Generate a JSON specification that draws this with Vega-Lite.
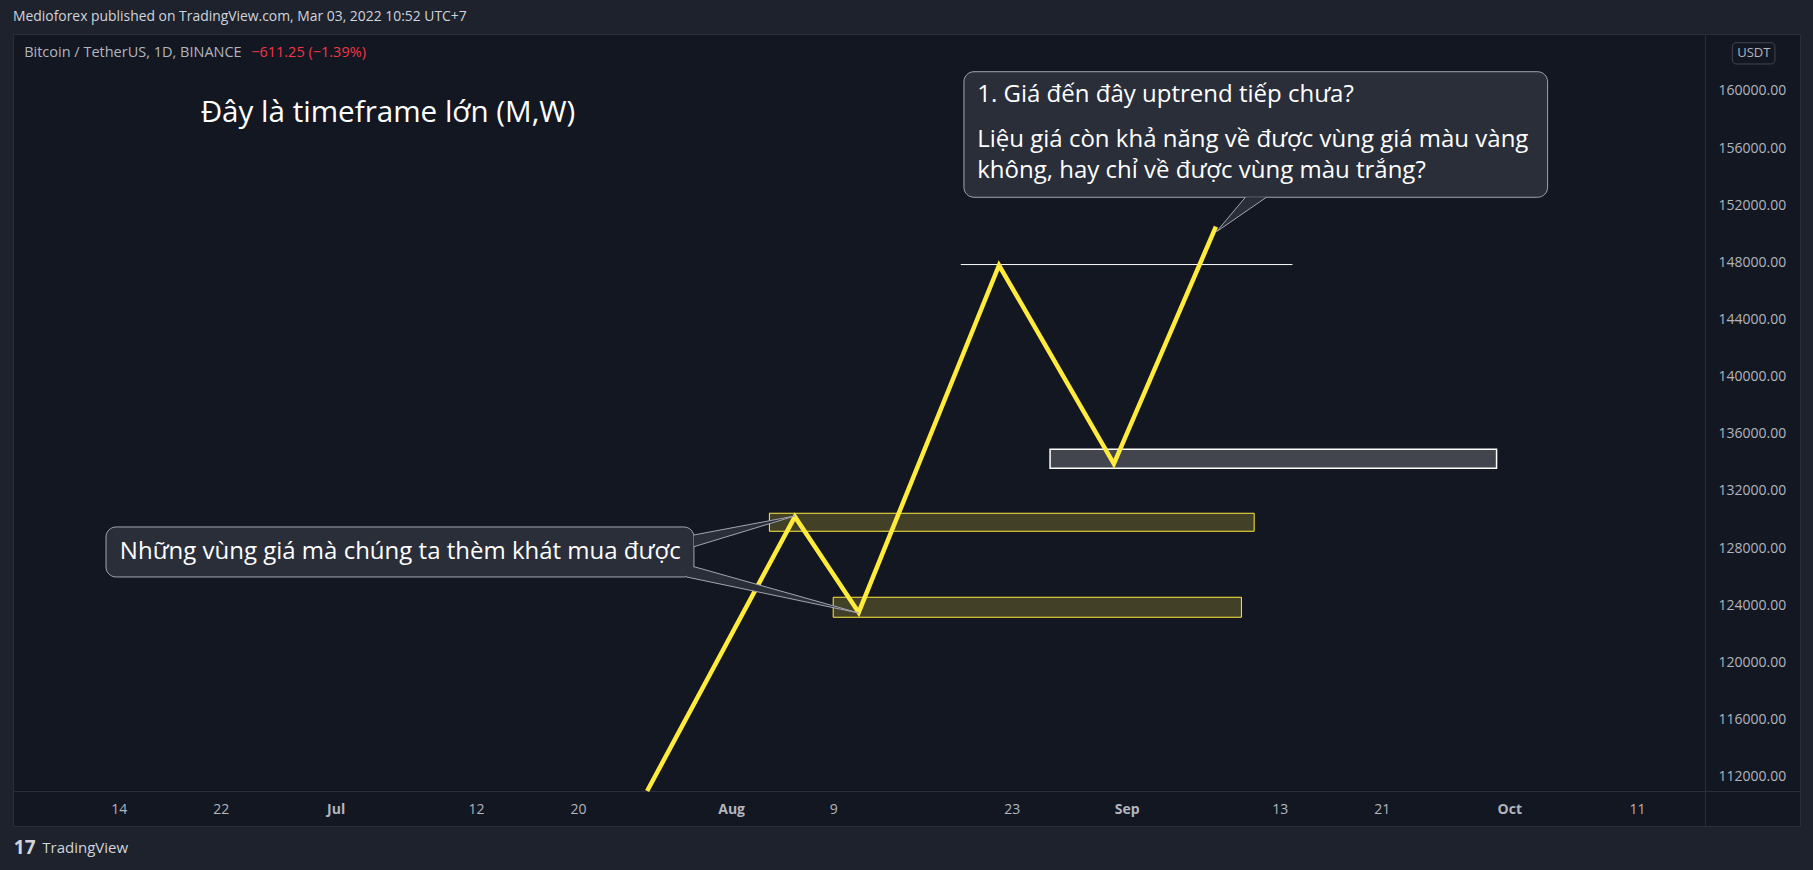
{
  "$schema": "https://vega.github.io/schema/vega-lite/v6.json",
  "width": 1787,
  "height": 792,
  "autosize": {"type": "none"},
  "padding": {"left": 13, "top": 34, "right": 13, "bottom": 44},
  "background": "#1e222d",
  "title": {"text": "Medioforex published on TradingView.com, Mar 03, 2022 10:52 UTC+7", "anchor": "start", "frame": "group", "offset": 10, "fontSize": 13.9, "fontWeight": "normal", "color": "#d1d4dc", "font": "Open Sans"},
  "config": {"view": {"fill": "#131722", "stroke": "#2a2e39", "strokeWidth": 1}, "font": "Open Sans"},
  "encoding": {
    "x": {"field": "x", "type": "temporal",
      "scale": {"type": "utc", "domain": [{"year": 2022, "month": 6, "date": 5, "hours": 17, "utc": true}, {"year": 2022, "month": 10, "date": 23, "hours": 18, "minutes": 50, "utc": true}]},
      "axis": {"orient": "bottom", "offset": -35, "title": null, "grid": false, "ticks": false, "tickSize": 0,
        "values": [
          {"year": 2022, "month": 6, "date": 14, "utc": true},
          {"year": 2022, "month": 6, "date": 22, "utc": true},
          {"year": 2022, "month": 7, "date": 1, "utc": true},
          {"year": 2022, "month": 7, "date": 12, "utc": true},
          {"year": 2022, "month": 7, "date": 20, "utc": true},
          {"year": 2022, "month": 8, "date": 1, "utc": true},
          {"year": 2022, "month": 8, "date": 9, "utc": true},
          {"year": 2022, "month": 8, "date": 23, "utc": true},
          {"year": 2022, "month": 9, "date": 1, "utc": true},
          {"year": 2022, "month": 9, "date": 13, "utc": true},
          {"year": 2022, "month": 9, "date": 21, "utc": true},
          {"year": 2022, "month": 10, "date": 1, "utc": true},
          {"year": 2022, "month": 10, "date": 11, "utc": true}
        ],
        "labelExpr": "utcdate(datum.value) == 1 ? utcFormat(datum.value, '%b') : utcFormat(datum.value, '%-d')",
        "labelFontWeight": {"condition": {"test": "utcdate(datum.value) == 1", "value": "bold"}, "value": "normal"},
        "labelPadding": 18, "labelBaseline": "middle", "labelColor": "#b2b5be", "labelFontSize": 14, "labelFont": "Open Sans",
        "labelOverlap": false, "labelFlush": false, "domainColor": "#2a2e39", "domainWidth": 1}
    },
    "y": {"field": "y", "type": "quantitative",
      "scale": {"domain": [108547, 163990], "nice": false, "zero": false},
      "axis": {"orient": "right", "offset": -95, "title": null, "grid": false, "ticks": false, "tickSize": 0,
        "values": [112000, 116000, 120000, 124000, 128000, 132000, 136000, 140000, 144000, 148000, 152000, 156000, 160000],
        "format": ".2f", "labelPadding": 13, "labelBaseline": "middle", "labelColor": "#b2b5be", "labelFontSize": 14, "labelFont": "Open Sans",
        "labelOverlap": false, "labelFlush": false, "domainColor": "#2a2e39", "domainWidth": 1}
    }
  },
  "layer": [
    {
      "data": {"values": [
        {"x": "2022-08-04", "x2": "2022-09-11", "y": 130440, "y2": 129180},
        {"x": "2022-08-09", "x2": "2022-09-10", "y": 124560, "y2": 123160}
      ]},
      "mark": {"type": "rect", "fill": "#ffeb3b", "fillOpacity": 0.2, "stroke": "#ffeb3b", "strokeWidth": 1},
      "encoding": {"x2": {"field": "x2"}, "y2": {"field": "y2"}}
    },
    {
      "data": {"values": [
        {"x": "2022-08-26", "x2": "2022-09-30", "y": 134920, "y2": 133590}
      ]},
      "mark": {"type": "rect", "fill": "#ffffff", "fillOpacity": 0.2, "stroke": "#ffffff", "strokeWidth": 1.5},
      "encoding": {"x2": {"field": "x2"}, "y2": {"field": "y2"}}
    },
    {
      "data": {"values": [
        {"x": "2022-08-19", "x2": "2022-09-14", "y": 147850}
      ]},
      "mark": {"type": "rule", "color": "#ffffff", "strokeWidth": 1},
      "encoding": {"x2": {"field": "x2"}}
    },
    {
      "data": {"values": [
        {"x": "2022-07-25T10:00:00Z", "y": 111000},
        {"x": "2022-08-06", "y": 130200},
        {"x": "2022-08-11", "y": 123500},
        {"x": "2022-08-22", "y": 147800},
        {"x": "2022-08-31", "y": 133900},
        {"x": "2022-09-08", "y": 150500}
      ]},
      "mark": {"type": "line", "color": "#ffeb3b", "strokeWidth": 4.5, "strokeJoin": "miter", "strokeCap": "butt"}
    },
    {
      "data": {"values": [
        {"x": "2022-08-19T06:00:00Z", "x2": "2022-10-04T00:00:00Z", "y": 161350, "y2": 152560},
        {"x": "2022-06-13T00:00:00Z", "x2": "2022-07-29T02:00:00Z", "y": 129480, "y2": 125980}
      ]},
      "mark": {"type": "rect", "fill": "#2a2e39", "stroke": "#a3a6af", "strokeWidth": 1, "cornerRadius": 10},
      "encoding": {"x2": {"field": "x2"}, "y2": {"field": "y2"}}
    },
    {
      "data": {"values": [
        {"w": "a", "i": 0, "x": "2022-09-10T07:30:00Z", "y": 152560},
        {"w": "a", "i": 1, "x": "2022-09-08T01:00:00Z", "y": 150150},
        {"w": "a", "i": 2, "x": "2022-09-11T23:00:00Z", "y": 152560},
        {"w": "b", "i": 0, "x": "2022-07-29T02:00:00Z", "y": 128920},
        {"w": "b", "i": 1, "x": "2022-08-06T00:00:00Z", "y": 130250},
        {"w": "b", "i": 2, "x": "2022-07-29T02:00:00Z", "y": 128100},
        {"w": "c", "i": 0, "x": "2022-07-29T02:00:00Z", "y": 126700},
        {"w": "c", "i": 1, "x": "2022-08-11T00:00:00Z", "y": 123460},
        {"w": "c", "i": 2, "x": "2022-07-28T12:00:00Z", "y": 125980}
      ]},
      "mark": {"type": "line", "fill": "#2a2e39", "stroke": "#a3a6af", "strokeWidth": 1, "strokeJoin": "miter"},
      "encoding": {"detail": {"field": "w"}, "order": {"field": "i", "type": "quantitative"}}
    },
    {
      "data": {"values": [
        {"x": "2022-06-20T10:00:00Z", "y": 158440, "t": "Đây là timeframe lớn (M,W)"}
      ]},
      "mark": {"type": "text", "align": "left", "baseline": "middle", "fontSize": 29.6, "color": "#ffffff", "font": "Open Sans"},
      "encoding": {"text": {"field": "t"}}
    },
    {
      "data": {"values": [
        {"x": "2022-08-20T07:00:00Z", "y": 159720, "t": "1. Giá đến đây uptrend tiếp chưa?"},
        {"x": "2022-08-20T07:00:00Z", "y": 156570, "t": "Liệu giá còn khả năng về được vùng giá màu vàng"},
        {"x": "2022-08-20T07:00:00Z", "y": 154400, "t": "không, hay chỉ về được vùng màu trắng?"},
        {"x": "2022-06-14T02:00:00Z", "y": 127750, "t": "Những vùng giá mà chúng ta thèm khát mua được"}
      ]},
      "mark": {"type": "text", "align": "left", "baseline": "middle", "fontSize": 24, "color": "#ffffff", "font": "Open Sans"},
      "encoding": {"text": {"field": "t"}}
    },
    {
      "data": {"values": [
        {"x": "2022-06-06T14:00:00Z", "y": 162640, "t": "Bitcoin / TetherUS, 1D, BINANCE"}
      ]},
      "mark": {"type": "text", "align": "left", "baseline": "middle", "fontSize": 14.5, "color": "#b2b5be", "font": "Open Sans"},
      "encoding": {"text": {"field": "t"}}
    },
    {
      "data": {"values": [
        {"x": "2022-06-24T09:00:00Z", "y": 162640, "t": "−611.25 (−1.39%)"}
      ]},
      "mark": {"type": "text", "align": "left", "baseline": "middle", "fontSize": 14.5, "color": "#f23645", "font": "Open Sans"},
      "encoding": {"text": {"field": "t"}}
    },
    {
      "data": {"values": [
        {"x": "2022-10-18T11:30:00Z", "x2": "2022-10-21T19:40:00Z", "y": 163380, "y2": 161890}
      ]},
      "mark": {"type": "rect", "fill": "#131722", "stroke": "#434651", "strokeWidth": 1, "cornerRadius": 4},
      "encoding": {"x2": {"field": "x2"}, "y2": {"field": "y2"}}
    },
    {
      "data": {"values": [
        {"x": "2022-10-20T04:00:00Z", "y": 162635, "t": "USDT"}
      ]},
      "mark": {"type": "text", "align": "center", "baseline": "middle", "fontSize": 13, "color": "#b2b5be", "font": "Open Sans"},
      "encoding": {"text": {"field": "t"}}
    },
    {
      "data": {"values": [
        {"x": "2022-06-06T15:00:00Z", "y": 107000, "t": "17"}
      ]},
      "mark": {"type": "text", "align": "center", "baseline": "middle", "fontSize": 19, "fontWeight": "bold", "color": "#d1d4dc", "font": "Open Sans", "clip": false},
      "encoding": {"text": {"field": "t"}}
    },
    {
      "data": {"values": [
        {"x": "2022-06-08T00:00:00Z", "y": 107000, "t": "TradingView"}
      ]},
      "mark": {"type": "text", "align": "left", "baseline": "middle", "fontSize": 15, "color": "#d1d4dc", "font": "Open Sans", "clip": false},
      "encoding": {"text": {"field": "t"}}
    }
  ]
}
